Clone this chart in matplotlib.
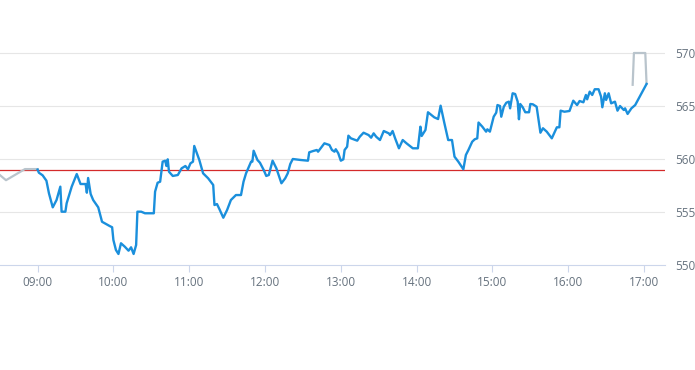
import matplotlib
matplotlib.use("Agg")
import matplotlib.pyplot as plt

plt.rcParams['font.family'] = ['Open Sans', 'DejaVu Sans']

# Reference (previous close) level
ref_level = 559.0

# Pre-market (grey) series
pre_times = ["08:30", "08:35", "08:50", "09:00"]
pre_values = [558.5, 558.0, 559.05, 559.05]

# After-hours (grey) series
post_times = ["16:51", "16:52", "17:01", "17:02"]
post_values = [567.0, 570.0, 570.0, 567.1]

# Regular session (blue) series
times = [
    "09:00", "09:01", "09:04", "09:07", "09:09", "09:12", "09:15", "09:18", "09:19", "09:22",
    "09:23", "09:27", "09:31", "09:34", "09:38", "09:39", "09:40", "09:42", "09:44", "09:48",
    "09:51", "09:57", "09:59", "10:00", "10:02", "10:04", "10:06", "10:09", "10:12", "10:14",
    "10:16", "10:18", "10:19", "10:22", "10:25", "10:32", "10:33", "10:35", "10:37", "10:39",
    "10:41", "10:42", "10:43", "10:44", "10:47", "10:51", "10:54", "10:57", "10:59", "11:01",
    "11:03", "11:04", "11:08", "11:11", "11:15", "11:19", "11:20", "11:22", "11:24", "11:27",
    "11:30", "11:33", "11:37", "11:41", "11:43", "11:45", "11:49", "11:50", "11:51", "11:54",
    "11:56", "11:59", "12:01", "12:03", "12:06", "12:09", "12:13", "12:16", "12:18", "12:20",
    "12:22", "12:28", "12:34", "12:35", "12:38", "12:41", "12:42", "12:45", "12:47", "12:51",
    "12:53", "12:55", "12:56", "12:58", "13:00", "13:02", "13:03", "13:05", "13:06", "13:08",
    "13:13", "13:15", "13:18", "13:22", "13:24", "13:26", "13:28", "13:31", "13:34", "13:38",
    "13:39", "13:41", "13:43", "13:46", "13:49", "13:52", "13:57", "14:01", "14:03", "14:04",
    "14:07", "14:09", "14:14", "14:17", "14:19", "14:22", "14:25", "14:28", "14:30", "14:33",
    "14:37", "14:39", "14:41", "14:44", "14:46", "14:48", "14:49", "14:52", "14:55", "14:56",
    "14:58", "15:00", "15:01", "15:03", "15:04", "15:06", "15:07", "15:09", "15:11", "15:13",
    "15:14", "15:16", "15:18", "15:20", "15:21", "15:22", "15:24", "15:26", "15:29", "15:30",
    "15:32", "15:35", "15:38", "15:40", "15:43", "15:47", "15:51", "15:53", "15:54", "15:57",
    "16:01", "16:04", "16:07", "16:09", "16:12", "16:14", "16:15", "16:17", "16:19", "16:21",
    "16:24", "16:26", "16:27", "16:29", "16:30", "16:32", "16:34", "16:37", "16:39", "16:41",
    "16:44", "16:45", "16:47", "16:50", "16:53", "17:02",
]
values = [
    559.0, 558.71, 558.46, 557.95, 556.76, 555.44, 556.13, 557.39, 555.03, 555.03,
    555.82, 557.39, 558.58, 557.64, 557.64, 556.82, 558.21, 556.70, 556.13, 555.44,
    554.08, 553.68, 553.56, 552.36, 551.42, 551.04, 552.05, 551.73, 551.35, 551.67,
    551.04, 551.89, 555.03, 555.03, 554.88, 554.88, 556.92, 557.76, 557.86, 559.75,
    559.84, 559.34, 559.97, 558.80, 558.40, 558.49, 559.12, 559.34, 559.03, 559.59,
    559.75, 561.23, 559.91, 558.65, 558.18, 557.55, 555.66, 555.75, 555.25, 554.46,
    555.19, 556.13, 556.60, 556.60, 557.86, 558.65, 559.75, 559.75, 560.78, 559.91,
    559.65, 558.96, 558.40, 558.49, 559.84, 559.12, 557.71, 558.18, 558.65, 559.53,
    560.0, 559.91, 559.84, 560.63, 560.75, 560.85, 560.69, 561.16, 561.48, 561.32,
    560.85, 560.69, 560.92, 560.54, 559.84, 559.97, 560.85, 561.16, 562.20, 561.95,
    561.73, 562.10, 562.48, 562.26, 562.01, 562.42, 562.10, 561.79, 562.64, 562.42,
    562.26, 562.64, 561.95, 561.01, 561.79, 561.48, 561.01, 561.01, 563.05, 562.17,
    562.74, 564.41, 563.93, 563.77, 565.03, 563.37, 561.79, 561.79, 560.22, 559.75,
    559.03, 560.38, 560.85, 561.63, 561.86, 561.95, 563.44, 563.05, 562.58, 562.80,
    562.58, 563.52, 563.99, 564.37, 565.09, 565.0, 563.99, 564.93, 565.31, 565.41,
    564.78, 566.20, 566.13, 565.41, 563.75, 565.19, 564.88, 564.41, 564.41, 565.19,
    565.16, 564.93, 562.48, 562.90, 562.58, 561.95, 562.99, 562.99, 564.56, 564.46,
    564.53, 565.50, 565.09, 565.47, 565.35, 566.04, 565.63, 566.35, 566.04, 566.58,
    566.58, 565.88, 564.88, 566.20, 565.57, 566.20, 565.25, 565.41, 564.56, 565.0,
    564.62, 564.78, 564.25, 564.78, 565.09, 567.08,
]

y_ticks = [550, 555, 560, 565, 570]
x_tick_labels = ["09:00", "10:00", "11:00", "12:00", "13:00", "14:00", "15:00", "16:00", "17:00"]


def to_hours(t):
    h, m = t.split(":")
    return int(h) + int(m) / 60.0


fig = plt.figure(figsize=(6.95, 3.70), dpi=100)
ax = fig.add_axes([0.0, 0.28378, 665 / 695, 0.68757])

label_color = "#66727e"
axis_color = "#ccd6eb"

for yv in y_ticks[1:]:
    ax.axhline(yv, color="#e6e6e6", lw=0.8, zorder=1)

ax.axhline(ref_level, color="#d42a2a", lw=0.9, zorder=2)

ax.plot([to_hours(t) for t in pre_times], pre_values, color="#b9c4cc", lw=1.6, zorder=3,
        solid_joinstyle="round")
ax.plot([to_hours(t) for t in post_times], post_values, color="#b9c4cc", lw=1.6, zorder=3,
        solid_joinstyle="round")
ax.plot([to_hours(t) for t in times], values, color="#1a8fdc", lw=1.7, zorder=4,
        solid_joinstyle="round")

ax.set_xlim(8 + 30.25 / 60, 17 + 16.6 / 60)
ax.set_ylim(550, 574)

for s in ["top", "left", "right"]:
    ax.spines[s].set_visible(False)
ax.spines["bottom"].set_color(axis_color)
ax.spines["bottom"].set_linewidth(0.8)

ax.set_xticks([to_hours(t) for t in x_tick_labels])
ax.set_xticklabels(x_tick_labels)
ax.tick_params(axis="x", colors=axis_color, length=5, width=0.8, pad=3,
               labelcolor=label_color, labelsize=8.5)

ax.yaxis.tick_right()
ax.set_yticks(y_ticks)
ax.set_yticklabels([str(v) for v in y_ticks])
ax.tick_params(axis="y", length=0, pad=7, labelcolor=label_color, labelsize=8.5)

fig.savefig("out.png", dpi=100)
